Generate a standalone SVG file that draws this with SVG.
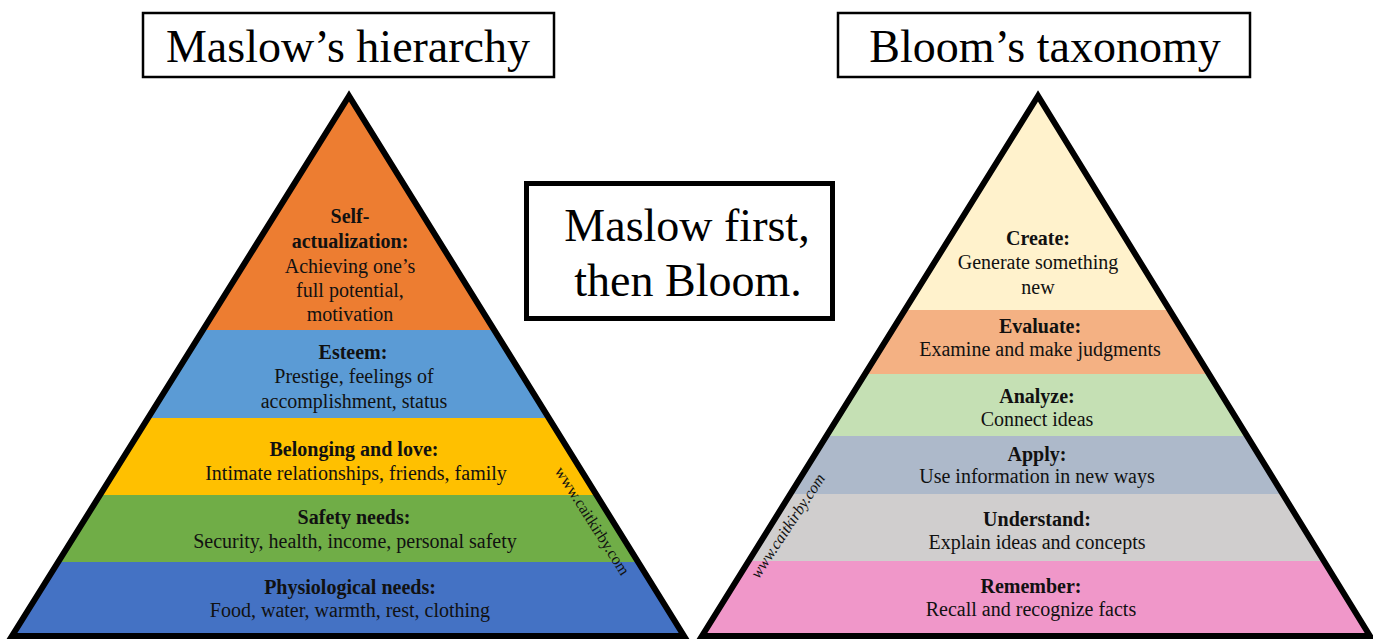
<svg xmlns="http://www.w3.org/2000/svg" width="1373" height="640" viewBox="0 0 1373 640">
<style>
.title{font-family:"Liberation Serif","Times New Roman",serif;font-size:46px;fill:#000;text-anchor:middle}
.box{fill:#fff;stroke:#000;stroke-width:2.5}
.b{font-family:"Liberation Serif","Times New Roman",serif;font-size:20px;font-weight:bold;fill:#111;text-anchor:middle}
.t{font-family:"Liberation Serif","Times New Roman",serif;font-size:20px;fill:#111;text-anchor:middle}
.wm{font-family:"Liberation Serif","Times New Roman",serif;font-size:16px;fill:#111;text-anchor:middle}
.outline{fill:none;stroke:#000;stroke-width:6;stroke-linejoin:miter;stroke-miterlimit:10}
</style>
<defs>
<clipPath id="clipL"><polygon points="349,96 12,636 684,636"/></clipPath>
<clipPath id="clipR"><polygon points="1038,96 702,636 1370,636"/></clipPath>
</defs>
<rect width="1373" height="640" fill="#fff"/>

<g id="title-maslow">
<rect class="box" x="143" y="13" width="411" height="64"/>
<text class="title" x="348" y="62">Maslow’s hierarchy</text>
</g>
<g id="title-bloom">
<rect class="box" x="838" y="13" width="412" height="64"/>
<text class="title" x="1045" y="62">Bloom’s taxonomy</text>
</g>
<g id="note">
<rect x="526.5" y="183.5" width="306" height="135" fill="#fff" stroke="#000" stroke-width="5"/>
<text class="title" x="687" y="241">Maslow first,</text>
<text class="title" x="688" y="296">then Bloom.</text>
</g>

<g id="maslow-pyramid">
<g clip-path="url(#clipL)">
<g id="m-self"><rect x="0" y="80" width="700" height="250" fill="#ED7D31"/></g>
<g id="m-esteem"><rect x="0" y="330" width="700" height="88" fill="#5B9BD5"/></g>
<g id="m-belonging"><rect x="0" y="418" width="700" height="77" fill="#FFC000"/></g>
<g id="m-safety"><rect x="0" y="495" width="700" height="67" fill="#70AD47"/></g>
<g id="m-physio"><rect x="0" y="562" width="700" height="80" fill="#4472C4"/></g>
</g>
<polygon class="outline" points="349,96 12,636 684,636"/>
<text class="b" x="350" y="223">Self-</text>
<text class="b" x="350" y="248">actualization:</text>
<text class="t" x="350" y="273">Achieving one’s</text>
<text class="t" x="350" y="297">full potential,</text>
<text class="t" x="350" y="321">motivation</text>
<text class="b" x="353" y="359">Esteem:</text>
<text class="t" x="354" y="383">Prestige, feelings of</text>
<text class="t" x="354" y="408">accomplishment, status</text>
<text class="b" x="354" y="456">Belonging and love:</text>
<text class="t" x="356" y="480">Intimate relationships, friends, family</text>
<text class="b" x="354" y="524">Safety needs:</text>
<text class="t" x="355" y="548">Security, health, income, personal safety</text>
<text class="b" x="350" y="594">Physiological needs:</text>
<text class="t" x="350" y="617">Food, water, warmth, rest, clothing</text>
<text class="wm" transform="translate(592,521) rotate(57.5)" y="5">www.caitkirby.com</text>
</g>

<g id="bloom-pyramid">
<g clip-path="url(#clipR)">
<g id="b-create"><rect x="690" y="80" width="690" height="230" fill="#FFF2CC"/></g>
<g id="b-evaluate"><rect x="690" y="310" width="690" height="64" fill="#F4B183"/></g>
<g id="b-analyze"><rect x="690" y="374" width="690" height="62" fill="#C5E0B4"/></g>
<g id="b-apply"><rect x="690" y="436" width="690" height="58" fill="#ADB9CA"/></g>
<g id="b-understand"><rect x="690" y="494" width="690" height="67" fill="#D0CECE"/></g>
<g id="b-remember"><rect x="690" y="561" width="690" height="80" fill="#F097C9"/></g>
</g>
<polygon class="outline" points="1038,96 702,636 1370,636"/>
<text class="b" x="1038" y="245">Create:</text>
<text class="t" x="1038" y="269">Generate something</text>
<text class="t" x="1038" y="294">new</text>
<text class="b" x="1040" y="333">Evaluate:</text>
<text class="t" x="1040" y="356">Examine and make judgments</text>
<text class="b" x="1037" y="403">Analyze:</text>
<text class="t" x="1037" y="426">Connect ideas</text>
<text class="b" x="1037" y="461">Apply:</text>
<text class="t" x="1037" y="483">Use information in new ways</text>
<text class="b" x="1037" y="526">Understand:</text>
<text class="t" x="1037" y="549">Explain ideas and concepts</text>
<text class="b" x="1031" y="593">Remember:</text>
<text class="t" x="1031" y="616">Recall and recognize facts</text>
<text class="wm" font-style="italic" transform="translate(788,526) rotate(-56.5)" y="5">www.caitkirby.com</text>
</g>
</svg>
